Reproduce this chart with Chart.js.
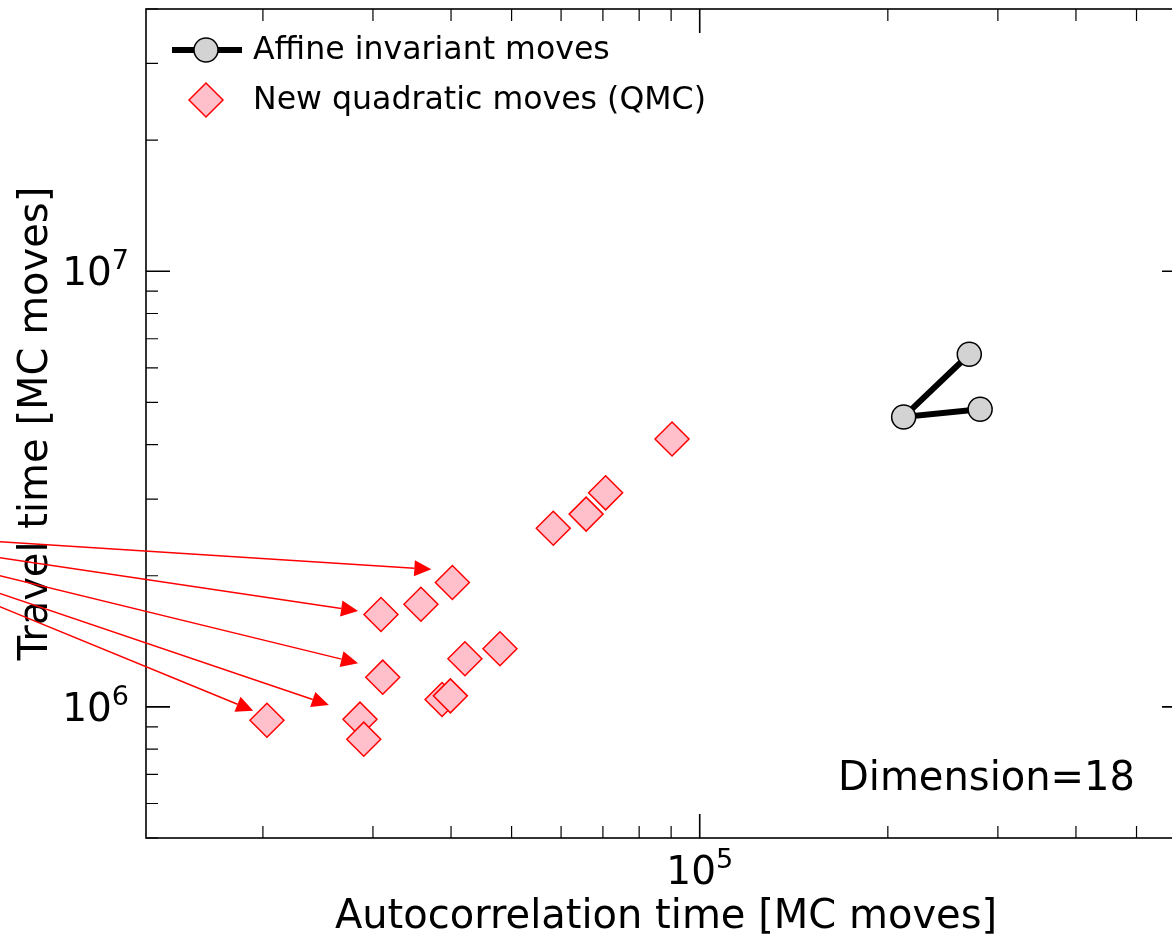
<!DOCTYPE html>
<html>
<head>
<meta charset="utf-8">
<script src="https://cdn.jsdelivr.net/npm/chart.js@4.4.0/dist/chart.umd.min.js"></script>
<style>
  html, body { margin: 0; padding: 0; background: #fff; overflow: hidden; }
  canvas { display: block; }
</style>
</head>
<body>
<canvas id="travelChart" width="1200" height="936"></canvas>
<script>
// affine invariant moves (joined by a line)
const affineX = [270000, 212000, 281000];
const affineY = [6.45e6, 4.63e6, 4.82e6];

// new quadratic moves (QMC)
const qmcX = [20300, 28600, 29000, 30900, 31100, 35800, 40200, 42100, 47900, 38700, 39900, 58300, 65800, 70700, 90300];
const qmcY = [9.32e5, 9.37e5, 8.43e5, 1.63e6, 1.17e6, 1.72e6, 1.93e6, 1.29e6, 1.36e6, 1.04e6, 1.06e6, 2.57e6, 2.77e6, 3.10e6, 4.12e6];

// red arrows, all starting from one point left of the axes
const arrowFromX = 3800;
const arrowFromY = 2.55e6;
const arrowToX = [37200, 28400, 28400, 25500, 19300];
const arrowToY = [2.07e6, 1.66e6, 1.26e6, 1.01e6, 9.8e5];

const xRange = [1.3e4, 6e5];
const yRange = [5e5, 4e7];
const xMajorTicks = [1e5];
const yMajorTicks = [1e6, 1e7];

const seriesLabels = ['Affine invariant moves', 'New quadratic moves (QMC)'];
const xTitle = 'Autocorrelation time [MC moves]';
const yTitle = 'Travel time [MC moves]';
const noteText = 'Dimension=18';

const FONT = "'DejaVu Sans', sans-serif";

function minorTicks(range, majors) {
  const out = [];
  for (let e = 2; e <= 9; e++) {
    for (let m = 1; m <= 9; m++) {
      const v = m * Math.pow(10, e);
      if (v >= range[0] && v <= range[1] && majors.indexOf(v) < 0) out.push(v);
    }
  }
  return out;
}

// "10" with the exponent raised, anchored at (x, baseline)
function powerLabel(ctx, value, x, baseline, align) {
  const exp = String(Math.round(Math.log10(value)));
  ctx.font = '39px ' + FONT;
  const wBase = ctx.measureText('10').width;
  ctx.font = '27px ' + FONT;
  const wExp = ctx.measureText(exp).width;
  let x0 = x;
  if (align === 'center') x0 = x - (wBase + wExp) / 2;
  if (align === 'right') x0 = x - (wBase + wExp);
  ctx.textAlign = 'left';
  ctx.textBaseline = 'alphabetic';
  ctx.font = '39px ' + FONT;
  ctx.fillText('10', x0, baseline);
  ctx.font = '27px ' + FONT;
  ctx.fillText(exp, x0 + wBase, baseline - 16);
}

const axesDeco = {
  id: 'axesDeco',
  afterDatasetsDraw(chart) {
    const {ctx, chartArea: a, scales: {x, y}} = chart;
    ctx.save();
    ctx.fillStyle = '#000';
    ctx.strokeStyle = '#000';

    // ticks on all four sides, pointing in
    const tick = (px, len, lw, horiz) => {
      ctx.lineWidth = lw;
      ctx.beginPath();
      if (horiz) {
        ctx.moveTo(px, a.bottom); ctx.lineTo(px, a.bottom - len);
        ctx.moveTo(px, a.top); ctx.lineTo(px, a.top + len);
      } else {
        ctx.moveTo(a.left, px); ctx.lineTo(a.left + len, px);
        ctx.moveTo(a.right, px); ctx.lineTo(a.right - len, px);
      }
      ctx.stroke();
    };
    minorTicks(xRange, xMajorTicks).forEach(v => tick(x.getPixelForValue(v), 12, 1.2, true));
    xMajorTicks.forEach(v => tick(x.getPixelForValue(v), 24, 1.6, true));
    minorTicks(yRange, yMajorTicks).forEach(v => tick(y.getPixelForValue(v), 12, 1.2, false));
    yMajorTicks.forEach(v => tick(y.getPixelForValue(v), 24, 1.6, false));

    // frame
    ctx.lineWidth = 1.6;
    ctx.strokeRect(a.left, a.top, a.right - a.left, a.bottom - a.top);

    // tick labels
    xMajorTicks.forEach(v => powerLabel(ctx, v, x.getPixelForValue(v), a.bottom + 46, 'center'));
    yMajorTicks.forEach(v => powerLabel(ctx, v, a.left - 17, y.getPixelForValue(v) + 14, 'right'));

    // arrows
    ctx.strokeStyle = '#ff0000';
    ctx.fillStyle = '#ff0000';
    const x0 = x.getPixelForValue(arrowFromX);
    const y0 = y.getPixelForValue(arrowFromY);
    arrowToX.forEach((vx, i) => {
      const x1 = x.getPixelForValue(vx);
      const y1 = y.getPixelForValue(arrowToY[i]);
      const ang = Math.atan2(y1 - y0, x1 - x0);
      const hl = 17, hw = 8;
      const bx = x1 - hl * Math.cos(ang), by = y1 - hl * Math.sin(ang);
      ctx.lineWidth = 1.5;
      ctx.beginPath();
      ctx.moveTo(x0, y0);
      ctx.lineTo(bx, by);
      ctx.stroke();
      ctx.beginPath();
      ctx.moveTo(x1, y1);
      ctx.lineTo(bx + hw * Math.sin(ang), by - hw * Math.cos(ang));
      ctx.lineTo(bx - hw * Math.sin(ang), by + hw * Math.cos(ang));
      ctx.closePath();
      ctx.fill();
    });

    // legend
    const ds0 = chart.data.datasets[0];
    const ds1 = chart.data.datasets[1];
    const lx = a.left + 60, ly0 = a.top + 41, ly1 = a.top + 91;
    ctx.strokeStyle = ds0.borderColor;
    ctx.lineWidth = ds0.borderWidth;
    ctx.beginPath();
    ctx.moveTo(lx - 34, ly0); ctx.lineTo(lx + 36, ly0);
    ctx.stroke();
    ctx.beginPath();
    ctx.arc(lx, ly0, ds0.pointRadius, 0, Math.PI * 2);
    ctx.fillStyle = ds0.pointBackgroundColor;
    ctx.fill();
    ctx.lineWidth = ds0.pointBorderWidth;
    ctx.strokeStyle = ds0.pointBorderColor;
    ctx.stroke();
    const r = 17;
    ctx.beginPath();
    ctx.moveTo(lx - r, ly1); ctx.lineTo(lx, ly1 - r); ctx.lineTo(lx + r, ly1); ctx.lineTo(lx, ly1 + r);
    ctx.closePath();
    ctx.fillStyle = ds1.pointBackgroundColor;
    ctx.fill();
    ctx.lineWidth = ds1.pointBorderWidth;
    ctx.strokeStyle = ds1.pointBorderColor;
    ctx.stroke();
    ctx.fillStyle = '#000';
    ctx.font = '31.6px ' + FONT;
    ctx.textAlign = 'left';
    ctx.textBaseline = 'middle';
    ctx.fillText(ds0.label, lx + 47, ly0 + 1);
    ctx.fillText(ds1.label, lx + 47, ly1 + 1);

    // note
    ctx.font = '40px ' + FONT;
    ctx.textAlign = 'right';
    ctx.textBaseline = 'alphabetic';
    ctx.fillText(noteText, a.right - 51, a.bottom - 48);
    ctx.restore();
  }
};

new Chart(document.getElementById('travelChart'), {
  type: 'scatter',
  data: {
    datasets: [
      {
        label: seriesLabels[0],
        data: affineX.map((v, i) => ({x: v, y: affineY[i]})),
        showLine: true,
        borderColor: '#000000',
        borderWidth: 6,
        pointRadius: 12,
        pointHoverRadius: 12,
        pointBackgroundColor: '#d3d3d3',
        pointBorderColor: '#000000',
        pointBorderWidth: 1.5
      },
      {
        label: seriesLabels[1],
        data: qmcX.map((v, i) => ({x: v, y: qmcY[i]})),
        pointStyle: 'rectRot',
        pointRadius: 17,
        pointHoverRadius: 17,
        pointBackgroundColor: '#ffc0cb',
        pointBorderColor: '#ff0000',
        pointBorderWidth: 1.5,
        order: 1
      }
    ]
  },
  options: {
    responsive: false,
    animation: false,
    devicePixelRatio: 1,
    layout: { autoPadding: false, padding: { top: 9, right: 14, left: 0, bottom: 0 } },
    plugins: { legend: { display: false }, tooltip: { enabled: false } },
    scales: {
      x: {
        type: 'logarithmic',
        min: xRange[0],
        max: xRange[1],
        grid: { display: false },
        border: { display: false },
        ticks: { display: false },
        title: { display: true, text: xTitle, color: '#000', font: { family: FONT, size: 40 }, padding: { top: 0, bottom: -6 } },
        afterFit(scale) { scale.height = 98; }
      },
      y: {
        type: 'logarithmic',
        min: yRange[0],
        max: yRange[1],
        grid: { display: false },
        border: { display: false },
        ticks: { display: false },
        title: { display: true, text: yTitle, color: '#000', font: { family: FONT, size: 40 }, padding: { top: 13, bottom: 0 } },
        afterFit(scale) { scale.width = 146; }
      }
    }
  },
  plugins: [axesDeco]
});
</script>
</body>
</html>
